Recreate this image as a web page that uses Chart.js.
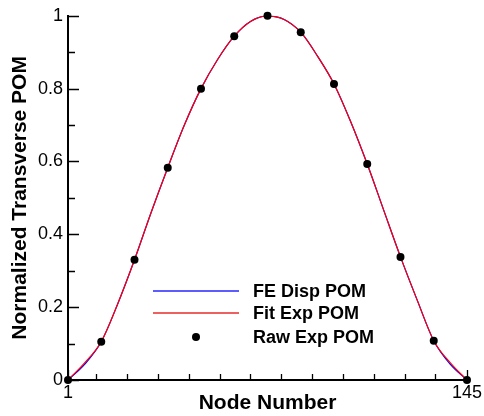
<!DOCTYPE html>
<html>
<head>
<meta charset="utf-8">
<script src="https://cdn.jsdelivr.net/npm/chart.js@4"></script>
<style>
  html, body { margin: 0; padding: 0; background: #fff; }
  #wrap { width: 484px; height: 416px; }
</style>
</head>
<body>
<div id="wrap"><canvas id="pomChart" width="484" height="416"></canvas></div>
<script>
// --- Datos ---
const curveNodes = [1, 7, 13, 19, 25, 31, 37, 43, 49, 55, 61, 67, 73, 79, 85, 91, 97, 103, 109, 115, 121, 127, 133, 139, 145];
const feDispPom  = [0, 0.043, 0.105, 0.21, 0.33, 0.46, 0.583, 0.70, 0.80, 0.88, 0.944, 0.985, 1.0, 0.99, 0.955, 0.89, 0.813, 0.71, 0.593, 0.465, 0.338, 0.22, 0.108, 0.043, 0];
const fitExpPom  = [0, 0.047, 0.105, 0.21, 0.33, 0.46, 0.583, 0.70, 0.80, 0.88, 0.944, 0.985, 1.0, 0.99, 0.955, 0.89, 0.813, 0.71, 0.593, 0.465, 0.338, 0.22, 0.108, 0.047, 0];

const rawNodes  = [1, 13, 25, 37, 49, 61, 73, 85, 97, 109, 121, 133, 145];
const rawExpPom = [0, 0.105, 0.33, 0.583, 0.80, 0.944, 1.0, 0.955, 0.813, 0.593, 0.338, 0.108, 0];

const seriesNames  = ['FE Disp POM', 'Fit Exp POM', 'Raw Exp POM'];
const seriesColors = ['#0000ff', '#ff0000', '#000000'];
const legendColors = ['#5c5cff', '#ec6060', '#000000'];

const xLabelTicks = [1, 145];
const xMinorTicks = [11.2, 22.3, 33.4, 44.5, 55.7, 66.8, 77.9, 89.1, 100.2, 111.3, 122.5, 133.6];
const yMajorTicks = [0, 0.2, 0.4, 0.6, 0.8, 1];
const yMinorTicks = [0.1, 0.3, 0.5, 0.7, 0.9];

const FONT = '"Liberation Sans", Arial, Helvetica, sans-serif';

function toPoints(xs, ys) {
  return xs.map((x, i) => ({ x: x, y: ys[i] }));
}

// Marcas de eje hacia adentro (estilo Tecplot)
const inwardTicks = {
  id: 'inwardTicks',
  afterDatasetsDraw(chart) {
    const { ctx, chartArea, scales } = chart;
    const xs = scales.x, ys = scales.y;
    ctx.save();
    ctx.strokeStyle = '#000';
    ctx.lineWidth = 1.3;
    ctx.beginPath();
    yMajorTicks.forEach(v => {
      const p = Math.round(ys.getPixelForValue(v)) + 0.5;
      ctx.moveTo(chartArea.left, p); ctx.lineTo(chartArea.left + 11, p);
    });
    yMinorTicks.forEach(v => {
      const p = Math.round(ys.getPixelForValue(v)) + 0.5;
      ctx.moveTo(chartArea.left, p); ctx.lineTo(chartArea.left + 7, p);
    });
    xLabelTicks.forEach(v => {
      const p = Math.round(xs.getPixelForValue(v)) + 0.5;
      ctx.moveTo(p, chartArea.bottom); ctx.lineTo(p, chartArea.bottom - 10);
    });
    xMinorTicks.forEach(v => {
      const p = Math.round(xs.getPixelForValue(v)) + 0.5;
      ctx.moveTo(p, chartArea.bottom); ctx.lineTo(p, chartArea.bottom - 6);
    });
    ctx.stroke();
    ctx.restore();
  }
};

// Leyenda dentro del area de la grafica
const innerLegend = {
  id: 'innerLegend',
  afterDraw(chart) {
    const ctx = chart.ctx;
    const x0 = 153, x1 = 239, tx = 253;
    const rows = [291, 313, 337];
    ctx.save();
    ctx.font = 'bold 18px ' + FONT;
    ctx.textBaseline = 'middle';
    ctx.textAlign = 'left';
    seriesNames.forEach((name, i) => {
      const y = rows[i];
      if (i === 2) {
        ctx.fillStyle = legendColors[i];
        ctx.beginPath();
        ctx.arc((x0 + x1) / 2, y, 4, 0, Math.PI * 2);
        ctx.fill();
      } else {
        ctx.strokeStyle = legendColors[i];
        ctx.lineWidth = 2;
        ctx.beginPath();
        ctx.moveTo(x0, y); ctx.lineTo(x1, y);
        ctx.stroke();
      }
      ctx.fillStyle = '#000';
      ctx.fillText(name, tx, y + 1);
    });
    ctx.restore();
  }
};

new Chart(document.getElementById('pomChart'), {
  type: 'line',
  data: {
    datasets: [
      {
        label: seriesNames[0],
        data: toPoints(curveNodes, feDispPom),
        borderColor: seriesColors[0],
        backgroundColor: seriesColors[0],
        borderWidth: 1.2,
        pointRadius: 0,
        cubicInterpolationMode: 'monotone',
        order: 3
      },
      {
        label: seriesNames[1],
        data: toPoints(curveNodes, fitExpPom),
        borderColor: seriesColors[1],
        backgroundColor: seriesColors[1],
        borderWidth: 1.2,
        pointRadius: 0,
        cubicInterpolationMode: 'monotone',
        order: 2
      },
      {
        label: seriesNames[2],
        data: toPoints(rawNodes, rawExpPom),
        showLine: false,
        borderColor: seriesColors[2],
        backgroundColor: seriesColors[2],
        pointRadius: 4,
        pointBorderWidth: 0,
        clip: false,
        order: 1
      }
    ]
  },
  options: {
    responsive: false,
    animation: false,
    devicePixelRatio: 1,
    layout: { padding: { left: 0, top: 15, right: 16, bottom: 0 } },
    plugins: {
      legend: { display: false },
      tooltip: { enabled: false }
    },
    scales: {
      x: {
        type: 'linear',
        min: 1,
        max: 145,
        afterBuildTicks: (scale) => { scale.ticks = xLabelTicks.map(v => ({ value: v })); },
        afterFit: (scale) => { scale.height = 36; },
        grid: { display: true, drawOnChartArea: false, drawTicks: false },
        border: { display: true, color: '#000', width: 2 },
        ticks: { color: '#000', padding: 2, maxRotation: 0, autoSkip: false, callback: (v) => String(v), font: { family: FONT, size: 18 } },
        title: { display: true, text: 'Node Number', color: '#000', padding: { top: 0, bottom: 0 }, font: { family: FONT, size: 21, weight: 'bold' } }
      },
      y: {
        min: 0,
        max: 1,
        afterBuildTicks: (scale) => { scale.ticks = yMajorTicks.map(v => ({ value: v })); },
        afterFit: (scale) => { scale.width = 68; },
        grid: { display: true, drawOnChartArea: false, drawTicks: false },
        border: { display: true, color: '#000', width: 2 },
        ticks: { color: '#000', padding: 5, callback: (v) => String(v), font: { family: FONT, size: 18 } },
        title: { display: true, text: 'Normalized Transverse POM', color: '#000', padding: { top: 8, bottom: 0 }, font: { family: FONT, size: 21, weight: 'bold' } }
      }
    }
  },
  plugins: [inwardTicks, innerLegend]
});
</script>
</body>
</html>
